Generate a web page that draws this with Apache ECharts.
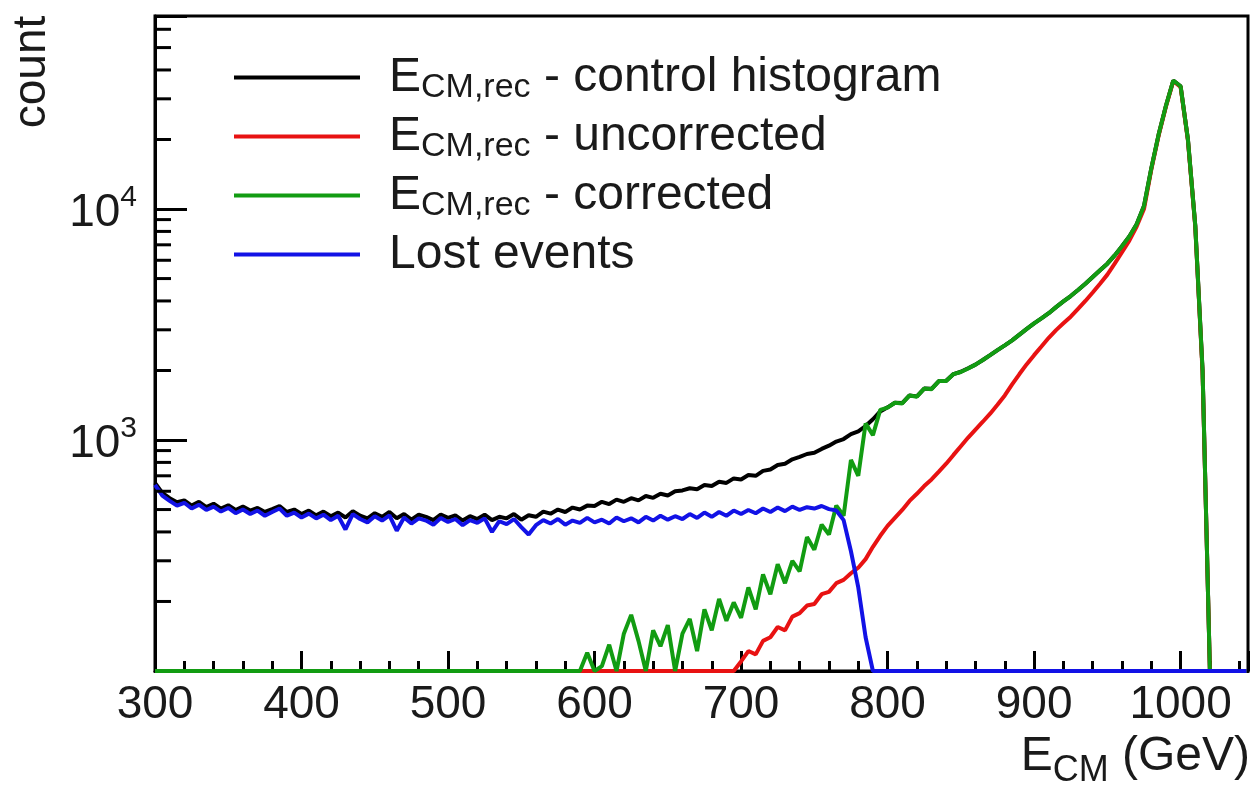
<!DOCTYPE html>
<html><head><meta charset="utf-8">
<script src="https://cdn.jsdelivr.net/npm/echarts@6/dist/echarts.min.js"></script>
<style>html,body{margin:0;padding:0;background:#fff;}#c{width:1254px;height:788px;}</style>
</head><body><div id="c"></div>
<script>
// bins: 5 GeV wide, starting at 300 GeV (150 bins up to 1045)
const binStart = 300, binWidth = 5;

const controlHist = [
 652, 590, 560, 538, 548, 520, 540, 512, 530, 505,
 522, 498, 515, 495, 508, 488, 502, 518, 488, 500,
 478, 495, 472, 490, 468, 485, 462, 492, 470, 458,
 482, 465, 488, 458, 478, 452, 475, 465, 450, 476,
 460, 472, 448, 468, 455, 475, 450, 465, 458, 478,
 452, 472, 465, 490, 480, 500, 488, 510, 500, 520,
 518, 540, 528, 552, 540, 560, 548, 572, 562, 585,
 575, 600, 605, 618, 612, 638, 632, 660, 652, 682,
 675, 705, 700, 735, 745, 780, 790, 825, 845, 870,
 880, 915, 945, 985, 1010, 1060, 1090, 1150, 1230, 1330,
 1385, 1450, 1445, 1560, 1545, 1670, 1665, 1800, 1805, 1930,
 1975, 2045, 2120, 2220, 2330, 2450, 2570, 2700, 2860, 3030,
 3200, 3360, 3540, 3760, 3980, 4200, 4460, 4750, 5080, 5430,
 5800, 6300, 6900, 7600, 8600, 10300, 15000, 21000, 28000, 36000,
 34000, 20000, 8500, 2000, 0, 0, 0, 0, 0, 0
];
const uncorrected = [
 0, 0, 0, 0, 0, 0, 0, 0, 0, 0,
 0, 0, 0, 0, 0, 0, 0, 0, 0, 0,
 0, 0, 0, 0, 0, 0, 0, 0, 0, 0,
 0, 0, 0, 0, 0, 0, 0, 0, 0, 0,
 0, 0, 0, 0, 0, 0, 0, 0, 0, 0,
 0, 0, 0, 0, 0, 0, 0, 0, 0, 0,
 0, 0, 0, 0, 0, 0, 0, 0, 0, 0,
 0, 0, 0, 0, 0, 0, 0, 0, 0, 0,
 110, 122, 118, 135, 140, 155, 150, 172, 178, 192,
 195, 215, 220, 240, 248, 265, 280, 305, 345, 385,
 425, 460, 498, 545, 585, 632, 675, 730, 790, 862,
 940, 1025, 1110, 1200, 1300, 1420, 1560, 1740, 1930, 2130,
 2330, 2540, 2770, 2990, 3200, 3420, 3700, 4000, 4350, 4750,
 5200, 5800, 6500, 7300, 8400, 10000, 14800, 20800, 27800, 35800,
 33800, 19800, 8400, 1950, 0, 0, 0, 0, 0, 0
];
const corrected = [
 0, 0, 0, 0, 0, 0, 0, 0, 0, 0,
 0, 0, 0, 0, 0, 0, 0, 0, 0, 0,
 0, 0, 0, 0, 0, 0, 0, 0, 0, 0,
 0, 0, 0, 0, 0, 0, 0, 0, 0, 0,
 0, 0, 0, 0, 0, 0, 0, 0, 0, 0,
 0, 0, 0, 0, 0, 0, 0, 0, 0, 120,
 0, 105, 130, 0, 145, 175, 135, 0, 150, 128,
 158, 0, 145, 168, 122, 185, 150, 205, 165, 198,
 170, 230, 185, 262, 215, 290, 240, 300, 270, 380,
 335, 430, 390, 520, 470, 820, 700, 1180, 1050, 1350,
 1380, 1450, 1440, 1560, 1540, 1670, 1660, 1800, 1800, 1930,
 1970, 2040, 2120, 2220, 2330, 2450, 2570, 2700, 2860, 3030,
 3200, 3360, 3540, 3760, 3980, 4200, 4460, 4750, 5080, 5430,
 5800, 6300, 6900, 7600, 8600, 10300, 15000, 21000, 28000, 36000,
 34000, 20000, 8500, 2000, 0, 0, 0, 0, 0, 0
];
const lostEvents = [
 640, 575, 545, 520, 535, 505, 525, 498, 515, 490,
 508, 482, 500, 478, 495, 470, 488, 505, 470, 485,
 462, 480, 458, 475, 450, 470, 410, 478, 455, 440,
 468, 448, 472, 405, 462, 435, 458, 448, 430, 460,
 442, 455, 428, 450, 438, 458, 400, 445, 432, 455,
 420, 390, 428, 450, 435, 455, 430, 448, 438, 460,
 440, 452, 435, 462, 445, 458, 440, 465, 448, 470,
 452, 468, 455, 478, 460, 485, 465, 488, 470, 495,
 478, 498, 482, 505, 488, 510, 492, 515, 498, 512,
 505, 518, 502, 495, 450, 330, 230, 140, 0, 0,
 0, 0, 0, 0, 0, 0, 0, 0, 0, 0,
 0, 0, 0, 0, 0, 0, 0, 0, 0, 0,
 0, 0, 0, 0, 0, 0, 0, 0, 0, 0,
 0, 0, 0, 0, 0, 0, 0, 0, 0, 0,
 0, 0, 0, 0, 0, 0, 0, 0, 0, 0
];

const xTickLabels = [300, 400, 500, 600, 700, 800, 900, 1000];
const yMinorTicks = [200, 300, 400, 500, 600, 700, 800, 900,
                     2000, 3000, 4000, 5000, 6000, 7000, 8000, 9000,
                     20000, 30000, 40000, 50000, 60000];
const seriesNames = ['E_CM,rec - control histogram', 'E_CM,rec - uncorrected', 'E_CM,rec - corrected', 'Lost events'];
const legendTexts = ['E{sub|CM,rec} - control histogram', 'E{sub|CM,rec} - uncorrected', 'E{sub|CM,rec} - corrected', 'Lost events'];
const seriesColors = ['#000000', '#e81212', '#129c12', '#1212e6'];
const seriesData = [controlHist, uncorrected, corrected, lostEvents];

const X_MIN = 300, X_MAX = 1046, Y_MIN = 100, Y_MAX = 68500;
const FONT = '"Liberation Sans", Arial, Helvetica, sans-serif';

const chart = echarts.init(document.getElementById('c'), null, {renderer: 'canvas'});

function toPairs(arr) {
  // empty bins are drawn on the axis floor (as ROOT does on a log axis)
  return arr.map((v, i) => [binStart + i * binWidth, Math.max(v, Y_MIN)]);
}

const lineSeries = seriesData.map((arr, k) => ({
  name: seriesNames[k],
  type: 'line',
  data: toPairs(arr),
  showSymbol: false,
  symbol: 'none',
  clip: false,
  color: seriesColors[k],
  lineStyle: {color: seriesColors[k], width: 4},
  z: 3 + k,
  animation: false
}));

const option = {
  animation: false,
  backgroundColor: '#ffffff',
  grid: {left: 155, right: 6, top: 16, bottom: 117, show: true, borderColor: '#000', borderWidth: 3,
         backgroundColor: 'transparent', containLabel: false, outerBoundsMode: 'none'},
  legend: {
    orient: 'vertical', left: 234, top: 48, padding: 0, itemGap: 0,
    itemWidth: 126, itemHeight: 4, icon: 'rect',
    data: seriesNames,
    formatter: name => legendTexts[seriesNames.indexOf(name)],
    textStyle: {
      color: '#1a1a1a', fontFamily: FONT, fontSize: 48, lineHeight: 59, padding: [0, 0, 0, 24],
      rich: {
        sub: {fontFamily: FONT, fontSize: 34, lineHeight: 59, color: '#1a1a1a', padding: [20, 0, 0, 0]}
      }
    },
    selectedMode: false
  },
  xAxis: [{
    type: 'value', min: X_MIN, max: X_MAX, interval: 100,
    position: 'bottom',
    axisLine: {show: true, onZero: false, lineStyle: {color: '#000', width: 3}},
    axisTick: {show: true, inside: true, length: 20, lineStyle: {color: '#000', width: 3}},
    splitLine: {show: false},
    axisLabel: {
      show: true, margin: 11, color: '#1a1a1a', fontFamily: FONT, fontSize: 46, lineHeight: 46,
      formatter: v => (xTickLabels.indexOf(Math.round(v)) >= 0 && Math.abs(v - Math.round(v)) < 1e-6) ? String(Math.round(v)) : ''
    }
  }, {
    type: 'value', min: X_MIN, max: X_MAX, interval: 20,
    position: 'bottom',
    axisLine: {show: false, onZero: false},
    axisTick: {show: true, inside: true, length: 10, lineStyle: {color: '#000', width: 3}},
    splitLine: {show: false},
    axisLabel: {show: false}
  }],
  yAxis: {
    type: 'log', logBase: 10, min: Y_MIN, max: Y_MAX,
    axisLine: {show: true, onZero: false, lineStyle: {color: '#000', width: 3}},
    axisTick: {show: true, inside: true, length: 32, lineStyle: {color: '#000', width: 3}},
    splitLine: {show: false},
    axisLabel: {
      show: true, margin: 18, color: '#1a1a1a', fontFamily: FONT, fontSize: 46,
      formatter: v => {
        const l = Math.log10(v);
        const r = Math.round(l);
        if (Math.abs(l - r) < 1e-6 && r >= 3) return '{m|10}{sup|' + r + '}';
        return '';
      },
      rich: {
        m: {fontFamily: FONT, fontSize: 46, lineHeight: 64, color: '#1a1a1a', padding: [8, 0, 0, 0]},
        sup: {fontFamily: FONT, fontSize: 30, lineHeight: 64, color: '#1a1a1a', padding: [0, 0, 22, 0]}
      }
    }
  },
  series: lineSeries.concat([{
    type: 'custom',
    name: 'yminor',
    silent: true,
    z: 10,
    data: yMinorTicks.map(v => [X_MIN, v]),
    renderItem: (params, api) => {
      const p = api.coord([api.value(0), api.value(1)]);
      return {type: 'line', shape: {x1: p[0], y1: p[1], x2: p[0] + 16, y2: p[1]},
              style: {stroke: '#000', lineWidth: 3}};
    }
  }]),
  graphic: [
    {type: 'text', x: 32, y: 72, rotation: Math.PI / 2,
     style: {text: 'count', fill: '#1a1a1a', font: '46px ' + FONT, align: 'center', verticalAlign: 'middle'}},
    {type: 'text', x: 1250, y: 757,
     style: {text: 'E{sub|CM} (GeV)', fill: '#1a1a1a', font: '48px ' + FONT, align: 'right', verticalAlign: 'middle',
             rich: {sub: {fontFamily: FONT, fontSize: 36, fill: '#1a1a1a', padding: [28, 0, 0, 0]}}}}
  ]
};
chart.setOption(option);
</script>
</body></html>
